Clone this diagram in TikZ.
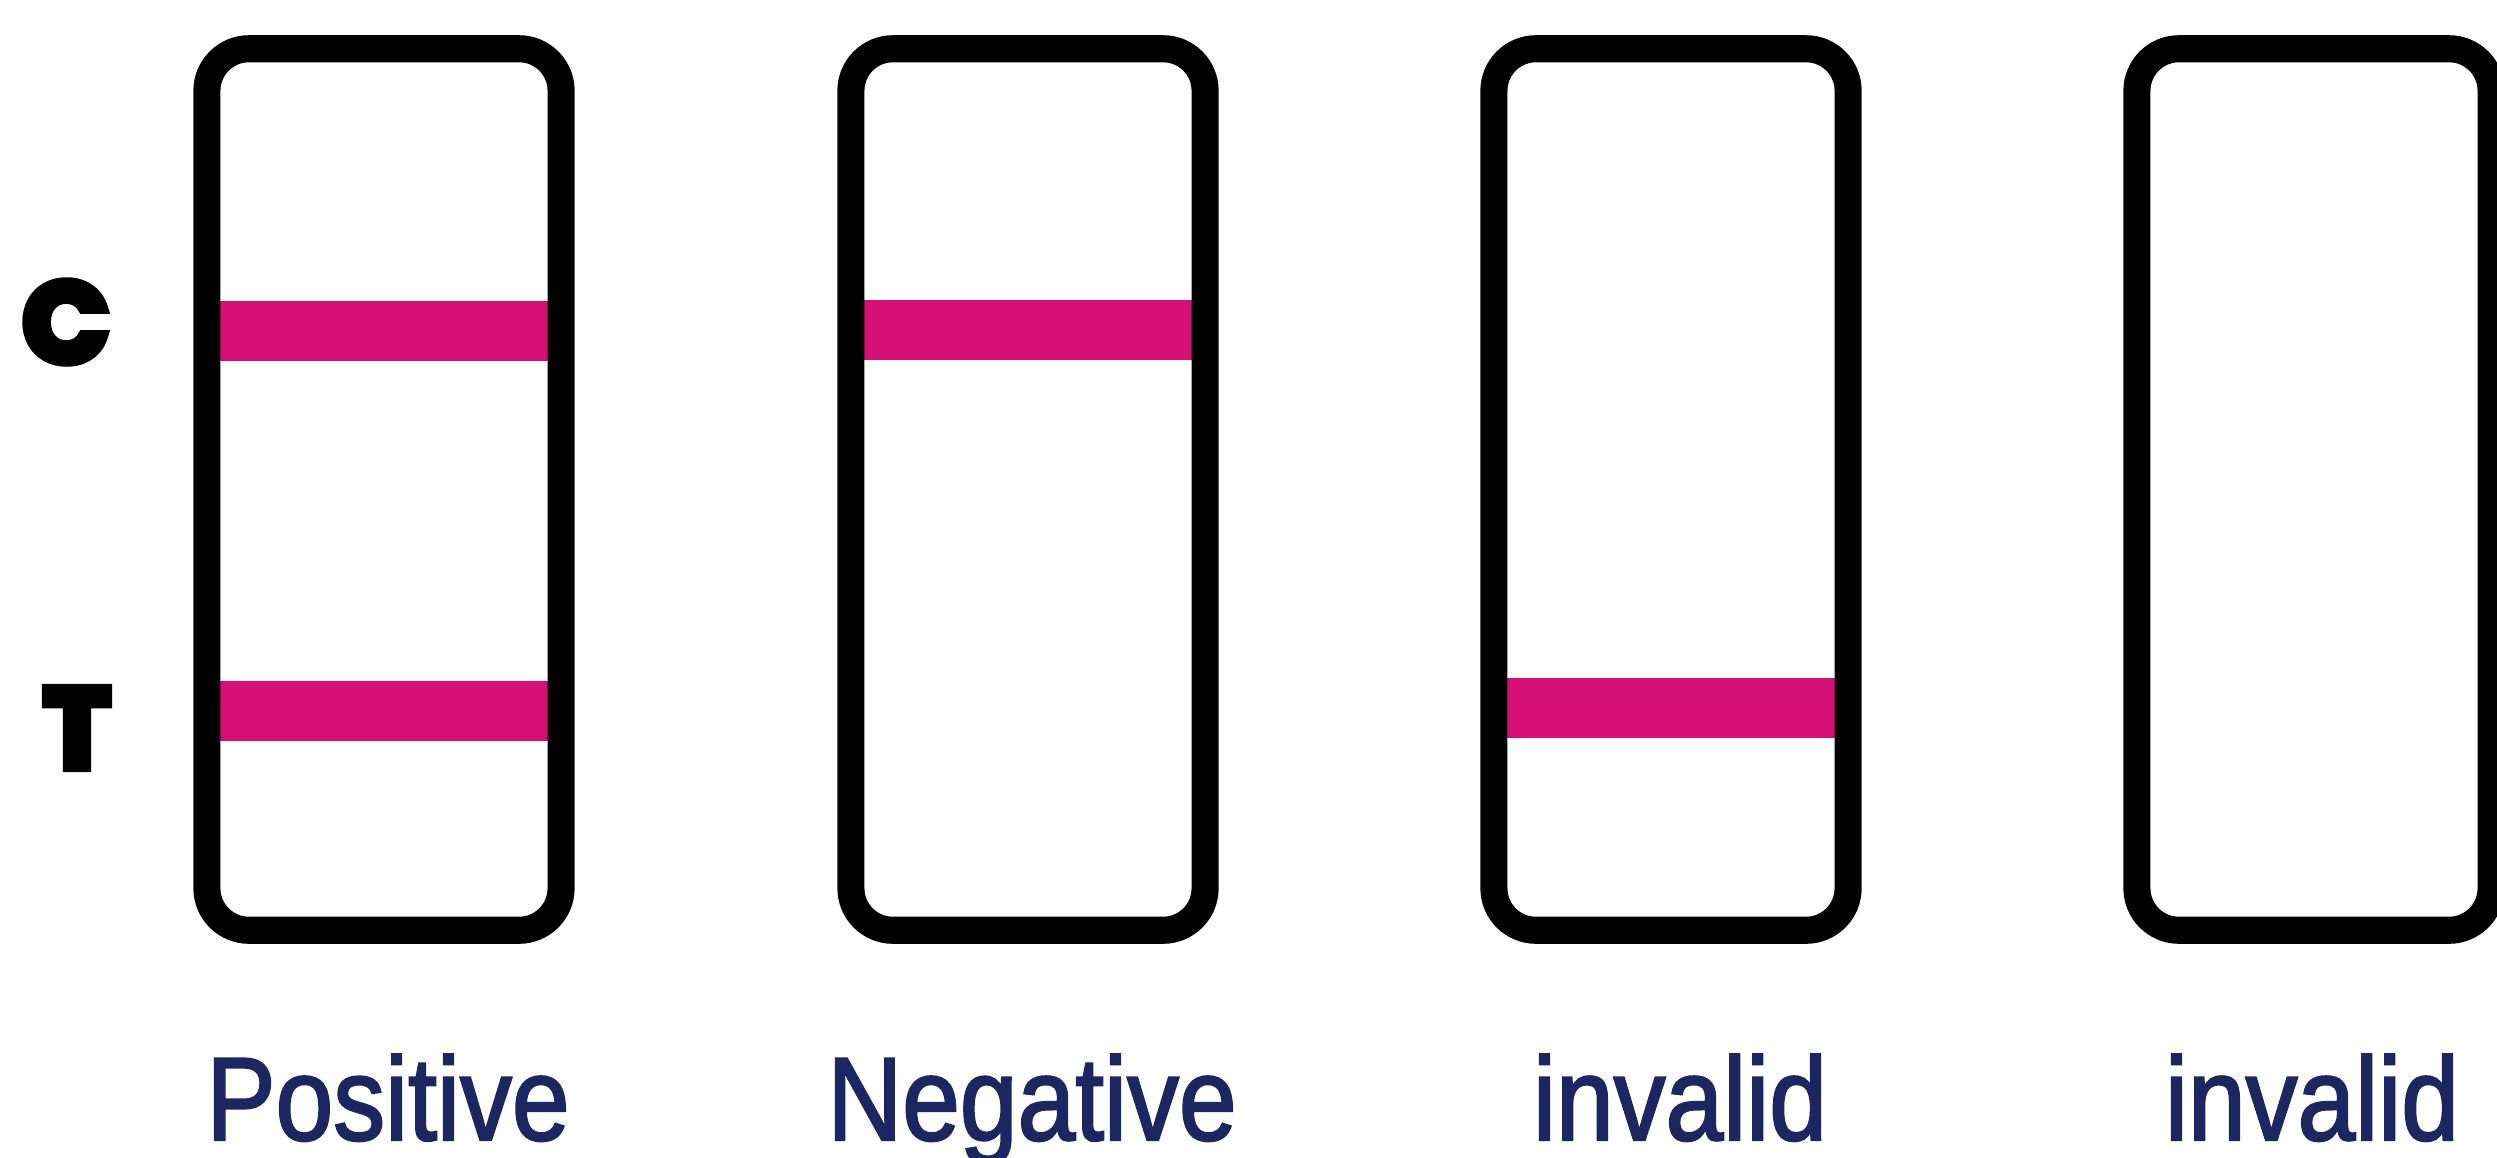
\documentclass[tikz,border=0pt]{standalone}
\usepackage{fontspec}
\newfontfamily\labfont{Liberation Sans}[FakeBold=2]
\newfontfamily\ctfont{Poppins}[BoldFeatures={FakeBold=8}]
\definecolor{bandpink}{RGB}{212,16,116}
\definecolor{labnavy}{RGB}{28,38,96}
\tikzset{
  stripbox/.style={draw=black, line width=7.7pt, rounded corners=0.42cm,
    minimum width=3.54cm, minimum height=8.81cm, inner sep=0pt, outer sep=0pt},
  bandbox/.style={fill=bandpink, draw=none, minimum width=3.54cm,
    minimum height=0.6cm, inner sep=0pt, outer sep=0pt},
  lab/.style={text=labnavy, anchor=base, inner sep=0pt,
    font=\labfont\fontsize{29.5}{35}\selectfont, yscale=1.14, transform shape},
  ctlab/.style={text=black, inner sep=0pt,
    font=\ctfont\bfseries\fontsize{32}{40}\selectfont}
}
\begin{document}
\begin{tikzpicture}[x=0.01cm, y=-0.01cm]
\useasboundingbox (0,0) rectangle (2497,1157);
\fill[white] (0,0) rectangle (2497,1157);
% bands
\node[bandbox] (c1) at (384,331) {};
\node[bandbox] (t1) at (384,711) {};
\node[bandbox] (c2) at (1028,330) {};
\node[bandbox] (t3) at (1671,708) {};
% strips
\node[stripbox] (s1) at (384,489.5) {};
\node[stripbox] (s2) at (1028,489.5) {};
\node[stripbox] (s3) at (1671,489.5) {};
\node[stripbox] (s4) at (2314,489.5) {};
% side letters
\node[ctlab] (cl) at (66,322) {C};
\node[ctlab] (tl) at (77,728) {T};
% labels
\node[lab] (l1) at (388,1140) {Positive};
\node[lab] (l2) at (1032,1140) {Negative};
\node[lab] (l3) at (1680,1140) {invalid};
\node[lab] (l4) at (2312,1140) {invalid};
\end{tikzpicture}
\end{document}
